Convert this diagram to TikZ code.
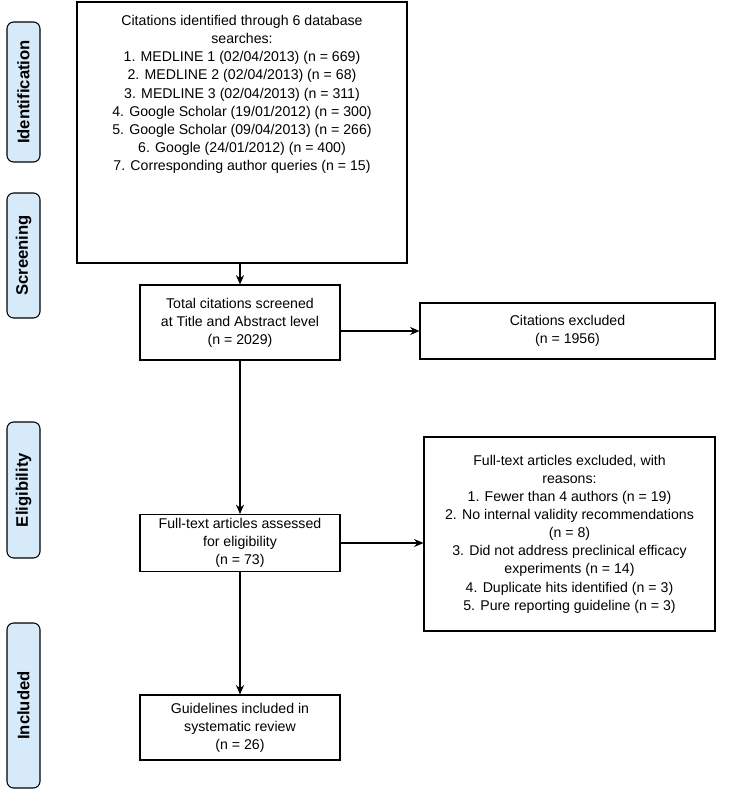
\documentclass[tikz,border=0pt]{standalone}
\usepackage{fontspec}
\setmainfont{Liberation Sans}
\usetikzlibrary{positioning,arrows.meta}
\definecolor{tabblue}{RGB}{214,234,250}
\tikzset{
    boxfont/.style={font=\fontsize{10.6}{13.6}\selectfont},
    box/.style={draw, thick, align=center, inner sep=0pt, boxfont},
    tab/.style={draw, thick, fill=tabblue, rounded corners=5pt},
    tablabel/.style={rotate=90, font=\fontsize{12.5}{14}\selectfont\bfseries},
    flow/.style={-{Stealth[length=7pt,width=6pt]}, thick}
}
\begin{document}
\begin{tikzpicture}[x=0.75pt, y=-0.75pt]
    \useasboundingbox (0,0) rectangle (732,800);
    % stage tabs
    \foreach \name/\ya/\yb in {Identification/22/162, Screening/193/318, Eligibility/422/558, Included/623/788} {
        \draw[tab] (7,\ya) rectangle (40,\yb);
        \node[tablabel] (tab\name) at (23.5,{(\ya+\yb)/2}) {\name};
    }
    % boxes
    \node[box, minimum width=330*0.75pt, minimum height=261*0.75pt] (ident) at (242,132.5) {};
    \node[boxfont, align=center, anchor=north, inner sep=0pt] (identtext) at (242,15) {Citations identified through 6 database\\searches:\\1. MEDLINE 1 (02/04/2013) (n = 669)\\2. MEDLINE 2 (02/04/2013) (n = 68)\\3. MEDLINE 3 (02/04/2013) (n = 311)\\4. Google Scholar (19/01/2012) (n = 300)\\5. Google Scholar (09/04/2013) (n = 266)\\6. Google (24/01/2012) (n = 400)\\7. Corresponding author queries (n = 15)};
    \node[box, minimum width=200*0.75pt, minimum height=75*0.75pt] (screen) at (240,322.5) {Total citations screened\\at Title and Abstract level\\(n = 2029)};
    \node[box, minimum width=295*0.75pt, minimum height=56*0.75pt] (excl) at (567.5,331) {Citations excluded\\(n = 1956)};
    \node[box, minimum width=200*0.75pt, minimum height=57*0.75pt] (elig) at (240,543) {Full-text articles assessed\\for eligibility\\(n = 73)};
    \node[box, minimum width=291*0.75pt, minimum height=194*0.75pt] (reasons) at (569.5,534) {Full-text articles excluded, with\\reasons:\\1. Fewer than 4 authors (n = 19)\\2. No internal validity recommendations\\(n = 8)\\3. Did not address preclinical efficacy\\experiments (n = 14)\\4. Duplicate hits identified (n = 3)\\5. Pure reporting guideline (n = 3)};
    \node[box, minimum width=200*0.75pt, minimum height=65*0.75pt] (incl) at (240,727.5) {Guidelines included in\\systematic review\\(n = 26)};
    % connectors
    \draw[flow] (ident.south -| screen.north) -- (screen.north);
    \draw[flow] (screen) -- (elig);
    \draw[flow] (elig) -- (incl);
    \draw[flow] (screen.east |- excl.west) -- (excl.west);
    \draw[flow] (elig.east) -- (elig.east -| reasons.west);
\end{tikzpicture}
\end{document}
